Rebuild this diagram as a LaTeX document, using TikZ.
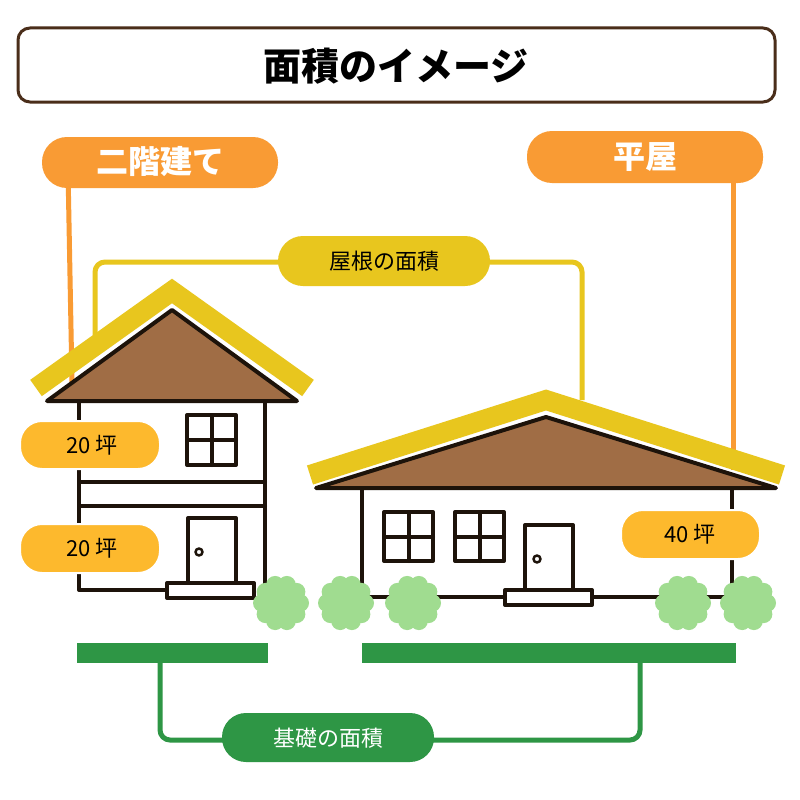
\documentclass[tikz,border=0pt]{standalone}
\usepackage{fontspec}
\usetikzlibrary{calc}
\newfontfamily\cjk{Noto Sans CJK JP}
\begin{document}
\begin{tikzpicture}[x=1pt,y=-1pt,
  pill/.style={rounded corners=22pt,draw=white,line width=2pt},
  wall/.style={draw=black!85!brown,line width=4pt,line cap=round,line join=round},
  roofband/.style={draw=yb,line width=20pt,line join=miter},
  link/.style={line width=5pt,rounded corners=10pt}]
\definecolor{orn}{HTML}{F99B34}
\definecolor{yb}{HTML}{E8C61E}
\definecolor{lbl}{HTML}{FDB92D}
\definecolor{brn}{HTML}{A06D45}
\definecolor{bush}{HTML}{A0DC90}
\definecolor{grn}{HTML}{2E9645}
\definecolor{frame}{HTML}{4A2E1A}
\useasboundingbox (0,0) rectangle (800,800);
\fill[white] (0,0) rectangle (800,800);
% title
\draw[frame,line width=3pt,rounded corners=12pt] (18,28) rectangle (775,102);
\node (title) at (396,66) {\cjk\bfseries\fontsize{38}{40}\selectfont 面積のイメージ};
% connectors
\coordinate (l2) at (72,382);
\coordinate (l1) at (733,470);
\draw[orn,line width=5pt] (68,170) -- (l2);
\draw[orn,line width=5pt] (733,160) -- (l1);
\draw[yb,link] (300,262) -| (95,335);
\draw[yb,link] (470,262) -| (582,400);
\draw[grn,link] (160,660) |- (250,740);
\draw[grn,link] (410,740) -| (640,660);
% pills
\fill[orn,rounded corners=25pt] (42,137) rectangle (278,188);
\node (p2) at (160,162) {\cjk\bfseries\color{white}\fontsize{32}{34}\selectfont 二階建て};
\fill[orn,rounded corners=25pt] (527,131) rectangle (763,183);
\node (p1) at (645,157) {\cjk\bfseries\color{white}\fontsize{32}{34}\selectfont 平屋};
\fill[yb,rounded corners=25pt] (278,236) rectangle (490,286);
\node (yane) at (384,261) {\cjk\fontsize{22}{24}\selectfont 屋根の面積};
% left house
\draw[roofband] (36,388) -- (172,291) -- (308,388);
\filldraw[brn,wall] (47,401) -- (172,310) -- (297,401) -- cycle;
\draw[wall] (79,401) -- (79,590) -- (167,590);
\draw[wall] (265,401) -- (265,590);
\draw[wall] (79,482) -- (265,482) (79,506) -- (265,506);
\draw[wall] (187,415) rectangle (236,465) (211.5,415) -- (211.5,465) (187,440) -- (236,440);
\draw[wall] (188,583) -- (188,518) -- (236,518) -- (236,583);
\draw[wall,line width=2.5pt] (199,552) circle (3.5);
\draw[wall,fill=white] (167,583) rectangle (254,598);
\filldraw[lbl,pill] (20,421) rectangle (160,469);
\node (a1) at (92,445) {\cjk\fontsize{22}{24}\selectfont 20 坪};
\filldraw[lbl,pill] (20,524) rectangle (160,573);
\node (a2) at (92,548) {\cjk\fontsize{22}{24}\selectfont 20 坪};
% right house
\draw[roofband] (310,475) -- (546,400) -- (782,475);
\filldraw[brn,wall] (316,488) -- (546,417) -- (776,488) -- cycle;
\draw[wall] (362,488) -- (362,597) -- (732,597) -- (732,488);
\foreach \x in {384,455}{
  \draw[wall] (\x,512) rectangle (\x+49,561) (\x+24.5,512) -- (\x+24.5,561) (\x,536.5) -- (\x+49,536.5);}
\draw[wall] (525,590) -- (525,525) -- (573,525) -- (573,590);
\draw[wall,line width=2.5pt] (537,559) circle (3.5);
\draw[wall,fill=white] (505,590) rectangle (592,605);
\filldraw[lbl,pill] (621,510) rectangle (760,559);
\node (a3) at (690,534) {\cjk\fontsize{22}{24}\selectfont 40 坪};
% bushes
\foreach \cx in {281,346,413,683,748}{
  \fill[bush] (\cx,603) circle (21);
  \foreach \a in {0,36,...,324} \fill[bush] ($(\cx,603)+(\a:19)$) circle (9);
}
% foundations
\fill[grn] (77,643) rectangle (268,663);
\fill[grn] (362,643) rectangle (736,663);
\fill[grn,rounded corners=24pt] (222,713) rectangle (434,762);
\node (kiso) at (328,738) {\cjk\color{white}\fontsize{22}{24}\selectfont 基礎の面積};
\end{tikzpicture}
\end{document}
